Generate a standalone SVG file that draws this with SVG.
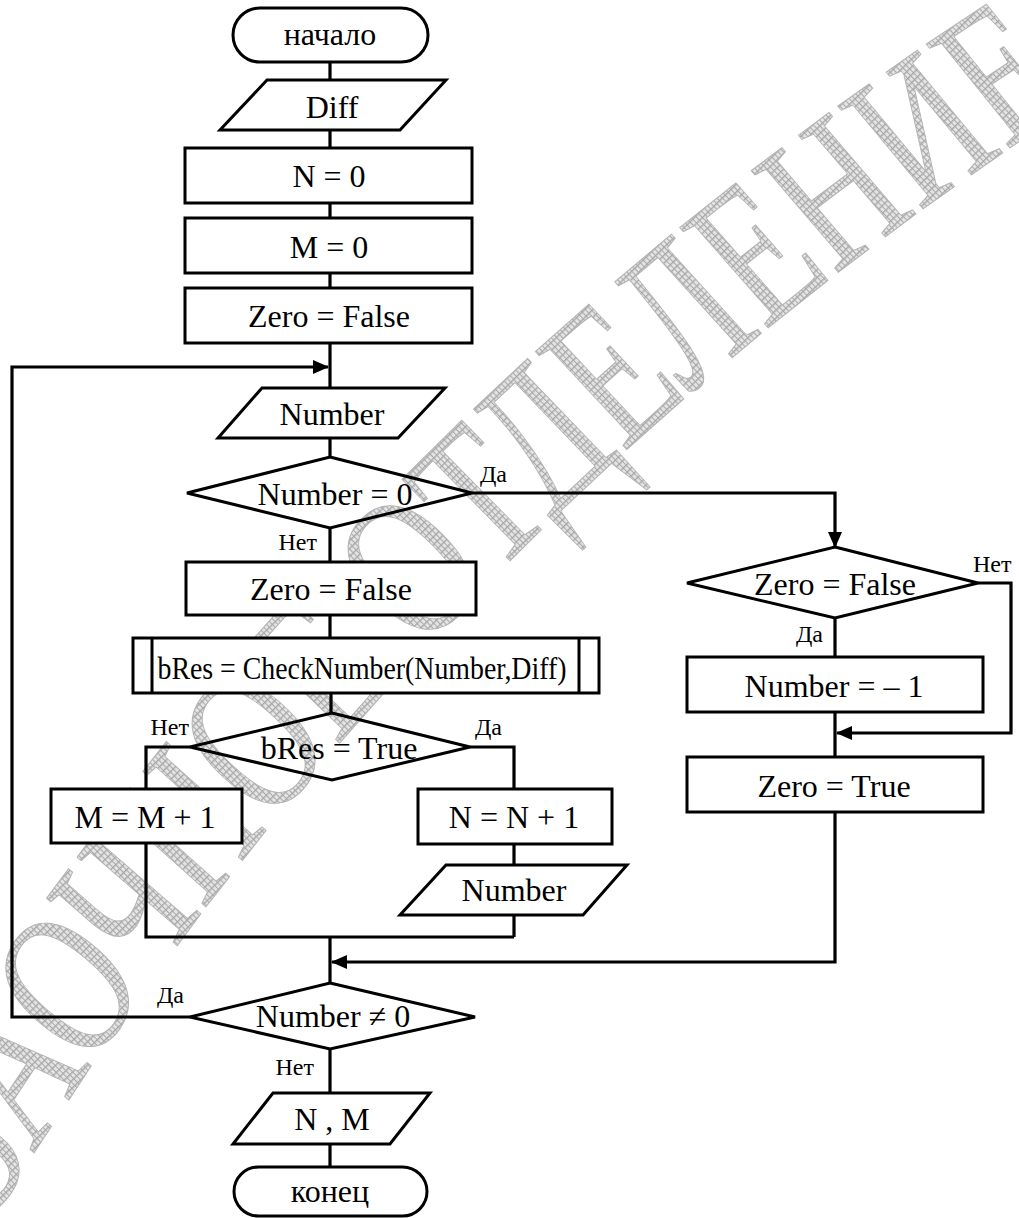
<svg xmlns="http://www.w3.org/2000/svg" width="1019" height="1218" viewBox="0 0 1019 1218">
  <defs>
    <style>
      .shape { fill: #fff; stroke: #000; stroke-width: 3; }
      .open { fill: none; stroke: #000; stroke-width: 3; }
      .ln { fill: none; stroke: #000; stroke-width: 3.2; }
      .arr { marker-end: url(#head); }
      .t { font-family: "Liberation Serif", "Times New Roman", serif; font-size: 32px; fill: #000; text-anchor: middle; }
      .lb { font-family: "Liberation Serif", "Times New Roman", serif; font-size: 24px; fill: #000; }
      .wm { font-family: "Liberation Serif", "Times New Roman", serif; font-size: 146px; fill: url(#hatch); stroke: #b4b4b4; stroke-width: 0.8; }
    </style>
    <pattern id="hatch" width="4" height="4" patternUnits="userSpaceOnUse">
      <rect width="4" height="4" fill="#e4e4e4"/>
      <path d="M0 0.5 H4 M0.5 0 V4" stroke="#a9a9a9" stroke-width="1"/>
    </pattern>
    <marker id="head" markerWidth="16" markerHeight="14" refX="15" refY="7" orient="auto" markerUnits="userSpaceOnUse">
      <path d="M0 0 L16 7 L0 14 Z" fill="#000"/>
    </marker>
    <!-- baseline of the watermark, in its own tilted and stretched frame -->
    <path id="wmArc" d="M -1000 104 A 4814 4814 0 0 1 1000 104"/>
  </defs>

  <rect width="1019" height="1218" fill="#fff"/>

  <!-- background watermark: tall letters on a shallow arc -->
  <g id="watermark" transform="translate(529 544) rotate(-44.5) scale(1 1.4)">
    <text class="wm"><textPath href="#wmArc" startOffset="932" text-anchor="middle">ЗАОЧНОЕ ОТДЕЛЕНИЕ</textPath></text>
  </g>

  <!-- connectors -->
  <g id="connectors">
    <path class="ln" d="M330 62 V80 M330 130 V148 M330 203 V218 M330 273 V288 M330 343 V388 M330 438 V457 M330 528 V562 M330 615 V638 M331 693 V713"/>
    <path class="ln arr" d="M472 493 H835 V547"/>
    <path class="ln" d="M835 618 V657 M835 712 V757"/>
    <path class="ln arr" d="M978 583 H1011 V733 H837"/>
    <path class="ln" d="M190 747 H146 V789 M146 843 V937 H514 M470 747 H514 V789 M514 844 V865 M514 915 V937 M330 937 V983"/>
    <path class="ln arr" d="M835 812 V962 H332"/>
    <path class="ln arr" d="M190 1017 H12 V367 H328"/>
    <path class="ln" d="M330 1049 V1093 M330 1144 V1167"/>
  </g>

  <g id="start">
    <rect class="shape" x="233" y="8" width="195" height="54" rx="27"/>
    <text class="t" x="330" y="45">начало</text>
  </g>
  <g id="input-diff">
    <polygon class="shape" points="267,80 446,80 400,130 220,130"/>
    <text class="t" x="332" y="118">Diff</text>
  </g>
  <g id="init-n">
    <rect class="shape" x="185" y="148" width="287" height="55"/>
    <text class="t" x="329" y="187">N = 0</text>
  </g>
  <g id="init-m">
    <rect class="shape" x="185" y="218" width="287" height="55"/>
    <text class="t" x="329" y="258">M = 0</text>
  </g>
  <g id="init-zero">
    <rect class="shape" x="185" y="288" width="287" height="55"/>
    <text class="t" x="329" y="327">Zero = False</text>
  </g>
  <g id="input-number">
    <polygon class="shape" points="262,388 445,388 398,438 218,438"/>
    <text class="t" x="332" y="425">Number</text>
  </g>
  <g id="test-zero-number">
    <polygon class="open" points="330,457 472,493 330,528 187,493"/>
    <text class="t" x="335" y="505">Number = 0</text>
    <text class="lb" x="480" y="482">Да</text>
    <text class="lb" x="317" y="550" text-anchor="end">Нет</text>
  </g>
  <g id="reset-zero">
    <rect class="shape" x="186" y="562" width="290" height="53"/>
    <text class="t" x="331" y="600">Zero = False</text>
  </g>
  <g id="check-number">
    <rect class="shape" x="133" y="638" width="466" height="55"/>
    <path class="open" d="M152 638 V693 M579 638 V693"/>
    <text class="t" x="362" y="679" textLength="409" lengthAdjust="spacingAndGlyphs">bRes = CheckNumber(Number,Diff)</text>
  </g>
  <g id="test-bres">
    <polygon class="open" points="332,713 470,747 332,780 190,747"/>
    <text class="t" x="339" y="759">bRes = True</text>
    <text class="lb" x="189" y="735" text-anchor="end">Нет</text>
    <text class="lb" x="475" y="735">Да</text>
  </g>
  <g id="inc-m">
    <rect class="shape" x="51" y="789" width="191" height="54"/>
    <text class="t" x="145" y="828">M = M + 1</text>
  </g>
  <g id="inc-n">
    <rect class="shape" x="418" y="789" width="194" height="55"/>
    <text class="t" x="514" y="828">N = N + 1</text>
  </g>
  <g id="input-number-2">
    <polygon class="shape" points="446,865 627,865 583,915 400,915"/>
    <text class="t" x="514" y="901">Number</text>
  </g>
  <g id="test-nonzero">
    <polygon class="open" points="330,983 475,1017 330,1049 190,1017"/>
    <text class="t" x="333" y="1027">Number ≠ 0</text>
    <text class="lb" x="157" y="1003">Да</text>
    <text class="lb" x="314" y="1075" text-anchor="end">Нет</text>
  </g>
  <g id="output-nm">
    <polygon class="shape" points="273,1093 430,1093 390,1144 233,1144"/>
    <text class="t" x="332" y="1130">N , M</text>
  </g>
  <g id="end">
    <rect class="shape" x="234" y="1167" width="193" height="49" rx="24.5"/>
    <text class="t" x="330" y="1202">конец</text>
  </g>
  <g id="test-zero-flag">
    <polygon class="open" points="835,547 978,583 835,618 687,583"/>
    <text class="t" x="835" y="595">Zero = False</text>
    <text class="lb" x="973" y="572">Нет</text>
    <text class="lb" x="823" y="642" text-anchor="end">Да</text>
  </g>
  <g id="set-minus-one">
    <rect class="shape" x="687" y="657" width="296" height="55"/>
    <text class="t" x="834" y="697">Number = – 1</text>
  </g>
  <g id="set-zero-true">
    <rect class="shape" x="687" y="757" width="296" height="55"/>
    <text class="t" x="834" y="797">Zero = True</text>
  </g>
</svg>
